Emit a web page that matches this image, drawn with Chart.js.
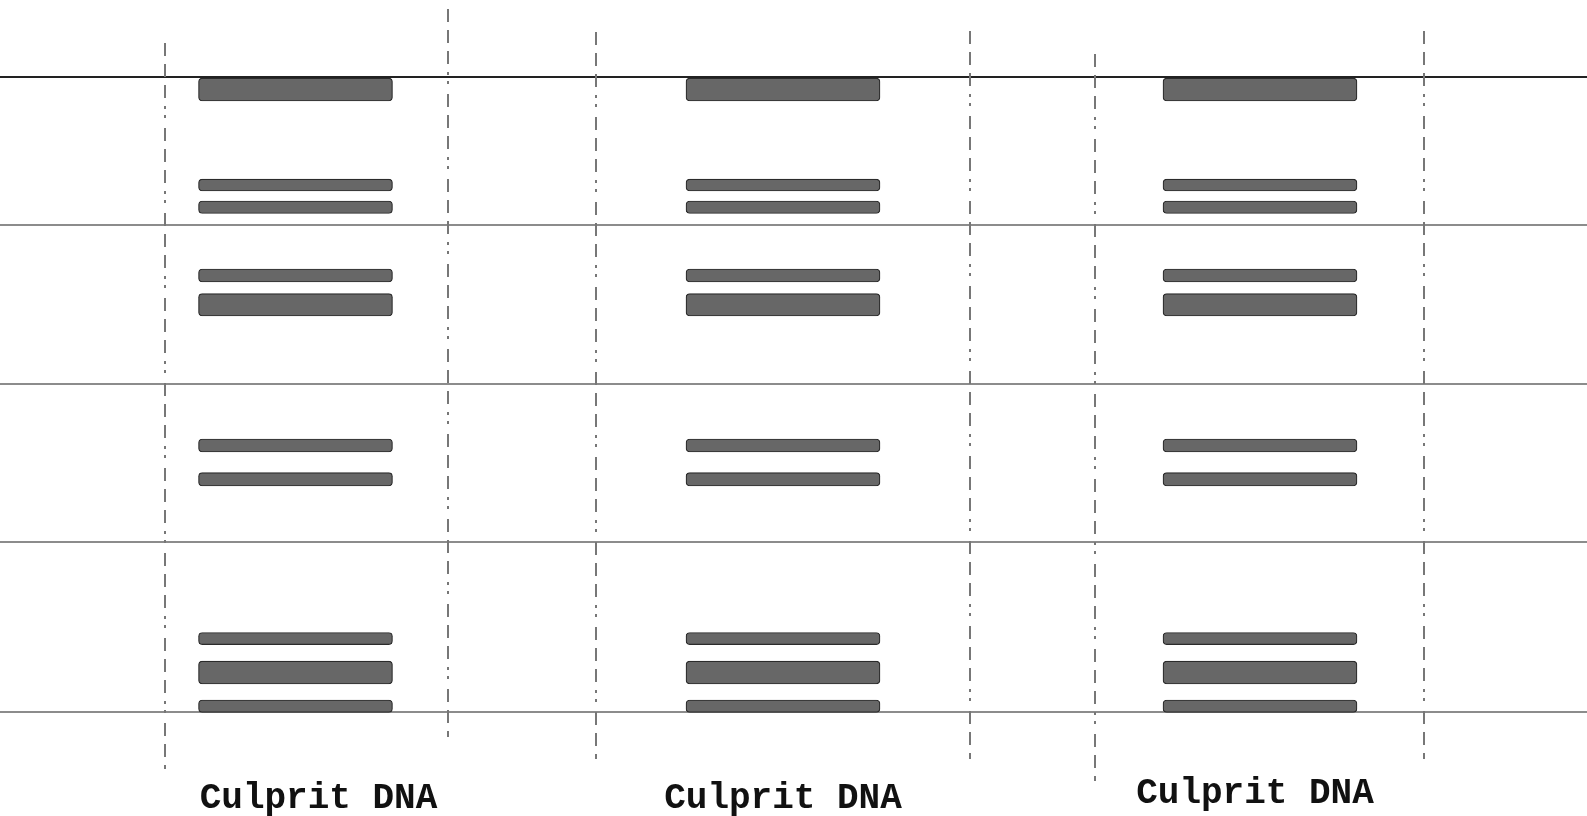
<!DOCTYPE html>
<html>
<head>
<meta charset="utf-8">
<script src="https://cdn.jsdelivr.net/npm/chart.js@4/dist/chart.umd.min.js"></script>
<style>
  html, body { margin: 0; padding: 0; background: #fff; }
  #wrap { width: 1587px; height: 816px; }
</style>
</head>
<body>
<div id="wrap"><canvas id="gel"></canvas></div>
<script>
// lanes (x position of the lane centre, label position)
const laneLabels = ['Culprit DNA', 'Culprit DNA', 'Culprit DNA'];
const laneX = [295.5, 783, 1260];
const labelX = [318.5, 783, 1255];
const labelY = [115.0, 115.0, 114.2];

// bands: migration distance, well = 0, bottom line = 100
const bandStart = [0, 16.05, 19.51, 30.21, 34.07, 56.96, 62.25, 87.41, 91.9, 98.03];
const bandEnd = [3.78, 17.94, 21.48, 32.26, 37.61, 59.01, 64.36, 89.32, 95.52, 100];

// horizontal gel lines
const gelLines = [0, 23.29, 48.23, 73.17, 100];

// dash-dot lane dividers
const dividerX = [165, 448, 596, 970, 1095, 1424];
const dividerTop = [-5.35, -10.7, -7.08, -7.24, -3.62, -7.24];
const dividerBottom = [108.89, 103.86, 107.32, 107.32, 110.78, 107.32];

const bandData = [];
laneX.forEach(x => {
  bandStart.forEach((s, i) => bandData.push({ x: x, y: [s, bandEnd[i]] }));
});

const dividerSets = dividerX.map((x, i) => ({
  type: 'line',
  data: [{ x: x, y: dividerTop[i] }, { x: x, y: dividerBottom[i] }],
  borderColor: '#777',
  borderWidth: 2,
  borderDash: [13, 8, 13, 8, 13, 8, 3, 6, 3, 10],
  pointRadius: 0,
  fill: false
}));

const labelPlugin = {
  id: 'laneLabels',
  afterDraw(chart) {
    const ctx = chart.ctx;
    const xs = chart.scales.x, ys = chart.scales.y;
    ctx.save();
    ctx.fillStyle = '#111';
    ctx.font = 'bold 36px "Liberation Mono", "DejaVu Sans Mono", monospace';
    ctx.textAlign = 'center';
    ctx.textBaseline = 'alphabetic';
    laneLabels.forEach((t, i) => {
      ctx.fillText(t, xs.getPixelForValue(labelX[i]), ys.getPixelForValue(labelY[i]));
    });
    ctx.restore();
  }
};

new Chart(document.getElementById('gel').getContext('2d'), {
  type: 'bar',
  data: {
    datasets: [{
      data: bandData,
      backgroundColor: '#676767',
      borderColor: '#2b2b2b',
      borderWidth: 1.2,
      borderSkipped: false,
      borderRadius: 4,
      barThickness: 194,
      grouped: false
    }].concat(dividerSets)
  },
  options: {
    responsive: true,
    maintainAspectRatio: false,
    animation: false,
    layout: { padding: 0 },
    plugins: { legend: { display: false }, tooltip: { enabled: false } },
    scales: {
      x: { type: 'linear', min: 0, max: 1587, offset: false, display: false },
      y: {
        type: 'linear',
        min: -12.12,
        max: 116.29,
        reverse: true,
        afterBuildTicks: scale => { scale.ticks = gelLines.map(v => ({ value: v })); },
        ticks: { display: false },
        border: { display: false },
        grid: {
          drawTicks: false,
          color: c => (c.tick && c.tick.value === 0 ? '#222' : '#8c8c8c'),
          lineWidth: 2
        }
      }
    }
  },
  plugins: [labelPlugin]
});
</script>
</body>
</html>
